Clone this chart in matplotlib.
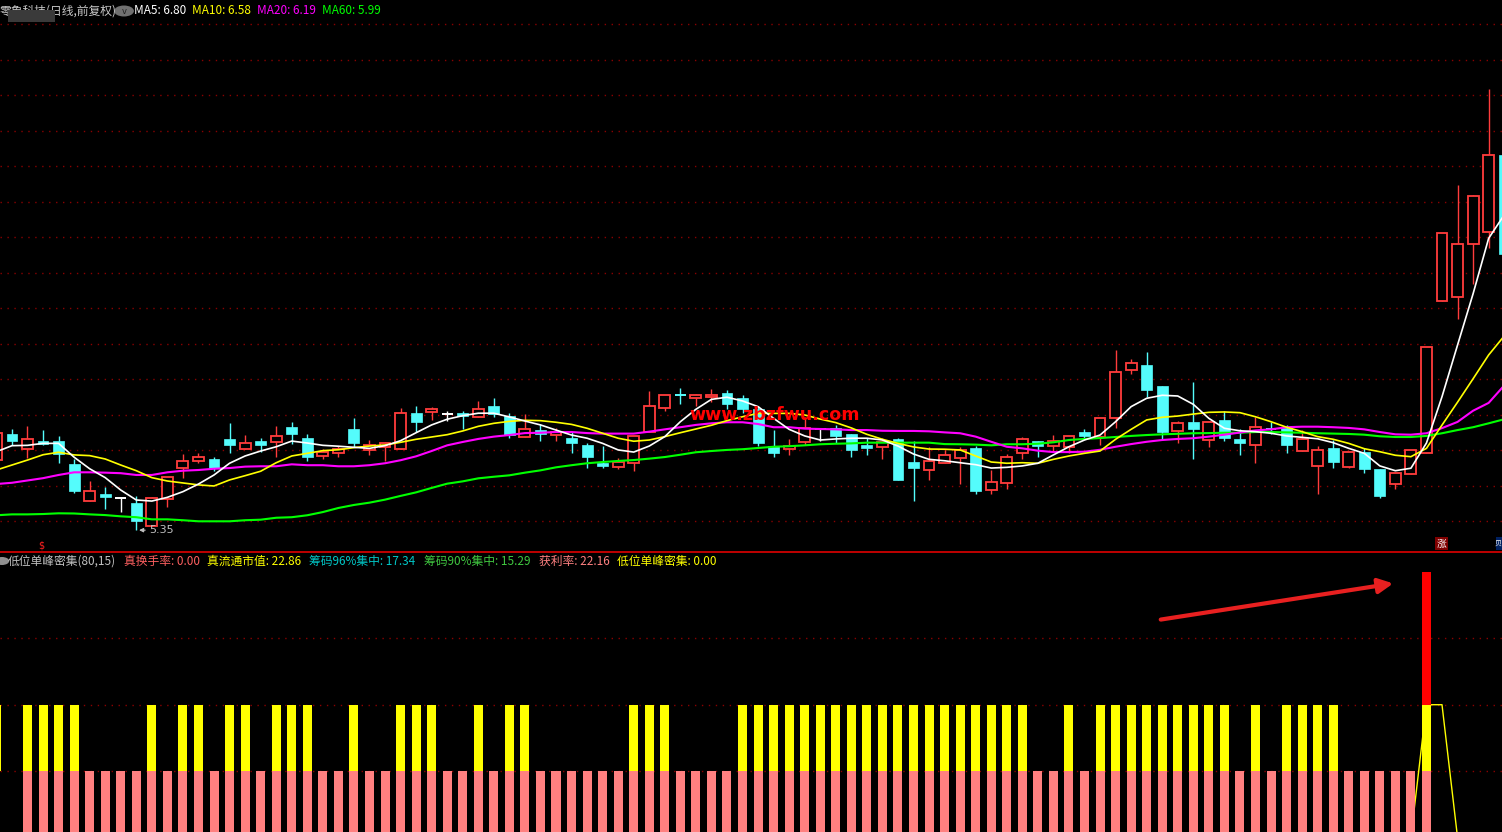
import matplotlib
matplotlib.use("Agg")
import matplotlib.pyplot as plt
from matplotlib.patches import Rectangle, FancyArrowPatch, Circle
from matplotlib.lines import Line2D

plt.rcParams['font.family'] = ['Noto Sans CJK SC', 'DejaVu Sans']

# ---------------- data (prices) ----------------
opens = [5.745, 5.890, 5.809, 5.852, 5.852, 5.723, 5.516, 5.554, 5.531, 5.503,
         5.375, 5.527, 5.699, 5.738, 5.751, 5.864, 5.807, 5.852, 5.847, 5.931,
         5.869, 5.768, 5.785, 5.920, 5.802, 5.819, 5.807, 6.010, 6.016, 6.003,
         6.010, 5.988, 6.050, 5.994, 5.875, 5.914, 5.886, 5.869, 5.830, 5.729,
         5.707, 5.729, 5.903, 6.039, 6.112, 6.095, 6.101, 6.123, 6.095, 6.033,
         5.824, 5.807, 5.847, 5.920, 5.925, 5.892, 5.830, 5.819, 5.864, 5.734,
         5.689, 5.729, 5.757, 5.813, 5.577, 5.616, 5.785, 5.852, 5.824, 5.819,
         5.903, 5.875, 5.982, 6.253, 6.281, 6.163, 5.909, 5.959, 5.858, 5.971,
         5.864, 5.830, 5.920, 5.925, 5.796, 5.712, 5.813, 5.707, 5.790, 5.695,
         5.610, 5.667, 5.785, 6.640, 6.663, 6.962, 7.030, 7.464]
highs = [5.897, 5.920, 5.937, 5.914, 5.880, 5.751, 5.627, 5.593, 5.531, 5.543,
         5.539, 5.648, 5.779, 5.785, 5.764, 5.956, 5.886, 5.869, 5.937, 5.959,
         5.892, 5.807, 5.824, 5.982, 5.858, 5.847, 6.038, 6.050, 6.044, 6.022,
         6.022, 6.078, 6.095, 6.010, 6.005, 5.948, 5.925, 5.903, 5.841, 5.824,
         5.757, 5.881, 6.135, 6.112, 6.151, 6.118, 6.146, 6.140, 6.112, 6.050,
         5.914, 5.864, 5.988, 5.920, 5.942, 5.892, 5.869, 5.869, 5.869, 5.852,
         5.819, 5.802, 5.819, 5.824, 5.689, 5.779, 5.875, 5.852, 5.886, 5.881,
         5.920, 5.982, 6.365, 6.315, 6.354, 6.163, 5.965, 6.185, 5.959, 6.022,
         5.920, 5.988, 5.959, 5.942, 5.914, 5.824, 5.858, 5.790, 5.813, 5.695,
         5.672, 5.802, 6.382, 7.024, 7.295, 7.238, 7.836, 7.464]
lows = [5.745, 5.829, 5.755, 5.828, 5.727, 5.561, 5.516, 5.471, 5.454, 5.350,
        5.375, 5.482, 5.646, 5.727, 5.685, 5.787, 5.807, 5.789, 5.764, 5.835,
        5.740, 5.751, 5.762, 5.819, 5.773, 5.740, 5.807, 5.903, 5.971, 5.965,
        5.920, 5.988, 5.988, 5.869, 5.875, 5.852, 5.852, 5.785, 5.699, 5.700,
        5.695, 5.683, 5.903, 6.022, 6.061, 6.050, 6.073, 6.033, 6.010, 5.824,
        5.762, 5.773, 5.830, 5.852, 5.841, 5.762, 5.773, 5.751, 5.633, 5.514,
        5.633, 5.729, 5.610, 5.554, 5.554, 5.582, 5.751, 5.762, 5.790, 5.785,
        5.864, 5.830, 5.926, 6.230, 6.101, 5.858, 5.841, 5.751, 5.819, 5.852,
        5.774, 5.729, 5.892, 5.785, 5.796, 5.554, 5.700, 5.700, 5.672, 5.531,
        5.582, 5.667, 5.785, 6.640, 6.541, 6.738, 6.940, 6.906]
closes = [5.897, 5.852, 5.862, 5.834, 5.777, 5.572, 5.569, 5.535, 5.531, 5.403,
          5.531, 5.648, 5.738, 5.761, 5.699, 5.830, 5.841, 5.830, 5.881, 5.892,
          5.762, 5.790, 5.807, 5.841, 5.830, 5.841, 6.010, 5.959, 6.033, 6.003,
          5.993, 6.033, 6.005, 5.886, 5.920, 5.892, 5.903, 5.841, 5.762, 5.712,
          5.734, 5.881, 6.050, 6.112, 6.106, 6.112, 6.112, 6.061, 6.033, 5.841,
          5.785, 5.824, 5.925, 5.920, 5.881, 5.802, 5.813, 5.847, 5.633, 5.700,
          5.740, 5.774, 5.802, 5.571, 5.622, 5.762, 5.864, 5.824, 5.852, 5.881,
          5.881, 5.982, 6.241, 6.292, 6.140, 5.903, 5.954, 5.920, 5.959, 5.869,
          5.841, 5.931, 5.918, 5.830, 5.864, 5.802, 5.734, 5.790, 5.695, 5.543,
          5.672, 5.802, 6.382, 7.024, 6.962, 7.233, 7.464, 6.906]

ma5 = [5.792, 5.826, 5.828, 5.839, 5.839, 5.761, 5.696, 5.646, 5.576, 5.520,
       5.514, 5.535, 5.567, 5.610, 5.661, 5.727, 5.768, 5.796, 5.820, 5.852,
       5.841, 5.828, 5.823, 5.817, 5.811, 5.826, 5.854, 5.899, 5.943, 5.975,
       5.995, 6.009, 6.009, 5.988, 5.965, 5.943, 5.914, 5.886, 5.868, 5.839,
       5.802, 5.790, 5.824, 5.877, 5.961, 6.031, 6.087, 6.099, 6.078, 6.046,
       5.980, 5.918, 5.881, 5.858, 5.864, 5.868, 5.868, 5.858, 5.824, 5.779,
       5.749, 5.741, 5.730, 5.719, 5.700, 5.704, 5.712, 5.727, 5.774, 5.820,
       5.858, 5.886, 5.961, 6.046, 6.093, 6.110, 6.106, 6.059, 5.980, 5.924,
       5.910, 5.905, 5.896, 5.881, 5.873, 5.865, 5.843, 5.811, 5.783, 5.712,
       5.685, 5.699, 5.841, 6.102, 6.393, 6.682, 6.994, 7.126]
ma10 = [5.689, 5.717, 5.745, 5.775, 5.789, 5.774, 5.770, 5.751, 5.717, 5.685,
        5.646, 5.627, 5.616, 5.605, 5.599, 5.633, 5.657, 5.682, 5.730, 5.768,
        5.783, 5.798, 5.803, 5.815, 5.824, 5.830, 5.845, 5.862, 5.875, 5.888,
        5.909, 5.935, 5.952, 5.963, 5.969, 5.967, 5.958, 5.946, 5.924, 5.896,
        5.868, 5.851, 5.858, 5.877, 5.899, 5.920, 5.941, 5.967, 5.989, 6.008,
        6.008, 6.008, 5.999, 5.976, 5.956, 5.926, 5.890, 5.862, 5.839, 5.819,
        5.807, 5.806, 5.802, 5.768, 5.734, 5.727, 5.730, 5.727, 5.749, 5.768,
        5.783, 5.796, 5.862, 5.918, 5.971, 5.986, 5.993, 6.004, 6.014, 6.016,
        6.012, 5.989, 5.961, 5.930, 5.905, 5.877, 5.862, 5.839, 5.809, 5.792,
        5.772, 5.764, 5.811, 5.942, 6.071, 6.203, 6.337, 6.444]
ma20 = [5.610, 5.617, 5.630, 5.643, 5.661, 5.676, 5.676, 5.674, 5.671, 5.661,
        5.661, 5.676, 5.685, 5.689, 5.696, 5.700, 5.708, 5.710, 5.710, 5.721,
        5.716, 5.716, 5.710, 5.710, 5.716, 5.727, 5.744, 5.766, 5.796, 5.828,
        5.847, 5.864, 5.877, 5.886, 5.897, 5.899, 5.903, 5.903, 5.897, 5.894,
        5.894, 5.894, 5.905, 5.918, 5.930, 5.943, 5.952, 5.958, 5.958, 5.948,
        5.930, 5.930, 5.922, 5.920, 5.918, 5.914, 5.914, 5.910, 5.909, 5.909,
        5.907, 5.901, 5.896, 5.877, 5.848, 5.820, 5.811, 5.798, 5.790, 5.790,
        5.792, 5.803, 5.820, 5.835, 5.848, 5.858, 5.864, 5.868, 5.877, 5.888,
        5.900, 5.912, 5.918, 5.930, 5.933, 5.933, 5.930, 5.926, 5.918, 5.903,
        5.890, 5.888, 5.896, 5.925, 5.960, 6.023, 6.067, 6.165]
ma60 = [5.434, 5.439, 5.439, 5.441, 5.445, 5.444, 5.439, 5.435, 5.428, 5.423,
        5.411, 5.411, 5.406, 5.400, 5.400, 5.400, 5.406, 5.409, 5.420, 5.423,
        5.434, 5.452, 5.475, 5.492, 5.505, 5.522, 5.543, 5.563, 5.588, 5.612,
        5.625, 5.642, 5.651, 5.659, 5.674, 5.687, 5.704, 5.716, 5.727, 5.734,
        5.740, 5.745, 5.753, 5.762, 5.775, 5.789, 5.796, 5.802, 5.806, 5.813,
        5.820, 5.823, 5.828, 5.834, 5.837, 5.839, 5.843, 5.843, 5.843, 5.843,
        5.843, 5.835, 5.834, 5.832, 5.828, 5.834, 5.834, 5.837, 5.845, 5.858,
        5.864, 5.869, 5.875, 5.881, 5.886, 5.890, 5.893, 5.896, 5.897, 5.899,
        5.899, 5.903, 5.903, 5.901, 5.899, 5.896, 5.894, 5.892, 5.888, 5.879,
        5.875, 5.875, 5.881, 5.896, 5.914, 5.930, 5.952, 5.975]

# indicator: bar index lists (same index as candles)
pink_idx = list(range(2, 93))
yellow_idx = [0, 2, 3, 4, 5, 10, 12, 13, 15, 16, 18, 19, 20, 23, 26, 27, 28, 31,
              33, 34, 41, 42, 43, 48, 49, 50, 51, 52, 53, 54, 55, 56, 57, 58, 59,
              60, 61, 62, 63, 64, 65, 66, 69, 71, 72, 73, 74, 75, 76, 77, 78, 79,
              81, 83, 84, 85, 86, 92]
red_idx = [92]
signal_line = {91: 0.0, 92: 2.0, 93: 2.0, 94: 0.0}

grid_prices = [5.4 + 0.2 * i for i in range(15)]
low_label = 5.35
low_index = 9

header_main = [("零象科技(日线,前复权)", "#c8c8c8"), ("MA5: 6.80", "#ffffff"),
               ("MA10: 6.58", "#ffff00"), ("MA20: 6.19", "#ff00ff"),
               ("MA60: 5.99", "#00ff00")]
header_ind = [("低位单峰密集(80,15)", "#c0c0c0"), ("真换手率: 0.00", "#ff6060"),
              ("真流通市值: 22.86", "#ffff00"), ("筹码96%集中: 17.34", "#00c8c8"),
              ("筹码90%集中: 15.29", "#40c840"), ("获利率: 22.16", "#ff8080"),
              ("低位单峰密集: 0.00", "#ffff00")]

# ---------------- figure ----------------
W, H = 1502, 832
fig = plt.figure(figsize=(W / 100, H / 100), dpi=100, facecolor='black')
PX = 0.72  # points per pixel

ax = fig.add_axes([0, 280 / H, 1, 552 / H])
ax2 = fig.add_axes([0, 0, 1, 280 / H])
for a in (ax, ax2):
    a.set_facecolor('black')
    a.set_xlim(0.231, 96.86)
    for s in a.spines.values():
        s.set_visible(False)
    a.set_xticks([])
    a.set_yticks([])
ax.set_ylim(5.227, 8.337)
ax2.set_ylim(0.083, 4.30)

GRID = '#8a0000'
for g in grid_prices:
    ax.axhline(g, color=GRID, lw=1.0, ls=(0, (1, 4)), zorder=0)
for g in (1, 2, 3):
    ax2.axhline(g, color=GRID, lw=1.0, ls=(0, (1, 4)), zorder=0)

# ---------------- candles ----------------
RED = '#ff3c3c'
CYAN = '#54fcfc'
bw = 0.70
pxp = (8.337 - 5.227) / 552.0
for k in range(len(opens)):
    o, h, l, c = opens[k], highs[k], lows[k], closes[k]
    if c > o:
        col = RED
    elif c < o:
        col = CYAN
    else:
        col = '#ffffff'
    ax.plot([k, k], [l, h], color=col, lw=1.0 * PX * 1.4, zorder=2,
            solid_capstyle='butt')
    lo_b, hi_b = min(o, c), max(o, c)
    if hi_b - lo_b < 1.2 * pxp:
        ax.plot([k - bw / 2, k + bw / 2], [o, o], color=col, lw=1.4 * PX * 1.4,
                zorder=3, solid_capstyle='butt')
    elif c > o:
        ax.add_patch(Rectangle((k - bw / 2, lo_b), bw, hi_b - lo_b,
                               facecolor='black', edgecolor=col,
                               lw=1.3 * PX * 1.4, zorder=3))
    else:
        ax.add_patch(Rectangle((k - bw / 2, lo_b), bw, hi_b - lo_b,
                               facecolor=col, edgecolor=col, lw=0.5, zorder=3))

xs = list(range(len(ma5)))
ax.plot(xs, ma60, color='#00ff00', lw=1.5 * PX * 1.4, zorder=4)
ax.plot(xs, ma20, color='#ff00ff', lw=1.5 * PX * 1.4, zorder=4)
ax.plot(xs, ma10, color='#ffff00', lw=1.2 * PX * 1.4, zorder=4)
ax.plot(xs, ma5, color='#ffffff', lw=1.2 * PX * 1.4, zorder=4)

# low label
ax.annotate('', xy=(low_index, low_label), xytext=(low_index + 0.75, low_label),
            arrowprops=dict(arrowstyle='-|>', color='#c0c0c0', lw=0.8,
                            mutation_scale=6), zorder=5)
ax.text(low_index + 0.8, low_label, f'{low_label:.2f}', color='#c0c0c0',
        fontsize=8, va='center', ha='left', zorder=5, family=['DejaVu Sans'])

# watermark
ax.text(775, 417, 'www.zbzfwu.com', transform=None, color='#ff0000',
        fontsize=12.6, fontweight='bold', ha='center', va='center', zorder=6,
        family=['DejaVu Sans'])

# ---------------- indicator ----------------
ibw = 0.58
ax2.bar(pink_idx, [1.0] * len(pink_idx), bottom=0, width=ibw,
        color='#ff8080', zorder=2)
ax2.bar(yellow_idx, [1.0] * len(yellow_idx), bottom=1, width=ibw,
        color='#ffff00', zorder=2)
ax2.bar(red_idx, [2.0] * len(red_idx), bottom=2, width=ibw,
        color='#ff0000', zorder=2)
sx = sorted(signal_line)
ax2.plot(sx, [signal_line[i] for i in sx], color='#ffff00', lw=1.0, zorder=1)

# ---------------- texts, decorations ----------------
def fx(x):
    return x / W

def fy(y):
    return 1 - y / H

# separator
fig.add_artist(Line2D([0, 1], [fy(552), fy(552)], color='#e00000', lw=1.2))

# main header
xpos = [0, 134, 192, 257, 322]
for (t, c), x in zip(header_main, xpos):
    fig.text(fx(x), fy(11), t, color=c, fontsize=8.5, va='center', ha='left')
fig.add_artist(Rectangle((fx(8), fy(22)), 47 / W, 12 / H, transform=fig.transFigure,
                         facecolor='#3a3a3a', edgecolor='none', zorder=10))
fig.add_artist(Circle((fx(124), fy(11)), 5.5 / H, transform=fig.transFigure,
                      facecolor='#707070', edgecolor='none'))
fig.text(fx(124), fy(11.5), 'v', color='#202020', fontsize=6, ha='center',
         va='center', family=['DejaVu Sans'])

# indicator header
xpos2 = [8, 124, 207, 309, 424, 539, 617]
for (t, c), x in zip(header_ind, xpos2):
    fig.text(fx(x), fy(561), t, color=c, fontsize=8.5, va='center', ha='left')
fig.add_artist(Circle((fx(2), fy(561)), 4 / H, transform=fig.transFigure,
                      facecolor='#909090', edgecolor='none'))

# markers at bottom of main panel
fig.add_artist(Rectangle((fx(1435), fy(550)), 13 / W, 13 / H,
                         transform=fig.transFigure, facecolor='#800000',
                         edgecolor='none'))
fig.text(fx(1441.5), fy(543.5), '涨', color='white', fontsize=7, ha='center',
         va='center')
fig.add_artist(Rectangle((fx(1496), fy(550)), 6 / W, 13 / H,
                         transform=fig.transFigure, facecolor='#002060',
                         edgecolor='none'))
fig.text(fx(1501.5), fy(543.5), '贝', color='white', fontsize=5, ha='right',
         va='center')
fig.text(fx(41), fy(545), '$', color='#ff2020', fontsize=7, ha='center',
         va='center', family=['DejaVu Sans'])

# red arrow in indicator panel
arr = FancyArrowPatch((fx(1158), fy(620)), (fx(1396), fy(583)),
                      transform=fig.transFigure, arrowstyle='-|>',
                      mutation_scale=22, color='#e82020', lw=3)
fig.add_artist(arr)

fig.savefig('out.png', dpi=100, facecolor='black')
